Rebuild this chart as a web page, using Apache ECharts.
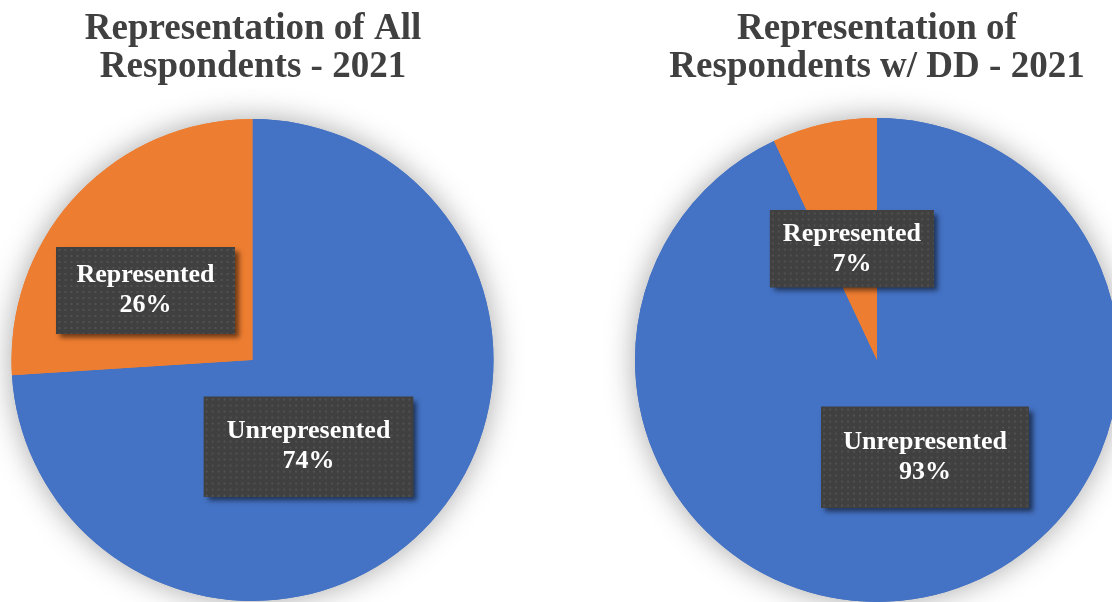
<!DOCTYPE html>
<html>
<head>
<meta charset="utf-8">
<script src="https://cdn.jsdelivr.net/npm/echarts@6/dist/echarts.min.js"></script>
<style>
  html, body { margin: 0; padding: 0; background: #fff; }
  #chart { width: 1112px; height: 602px; }
</style>
</head>
<body>
<div id="chart"></div>
<script>
const titles = ['Representation of All\nRespondents - 2021', 'Representation of\nRespondents w/ DD - 2021']
const categories = ['Unrepresented', 'Represented']
const allValues = [74, 26]
const ddValues = [93, 7]

const serif = '"Liberation Serif", "Times New Roman", serif'
const colors = ['#4472C4', '#ED7D31']

// dotted dark fill for the label boxes
function dots(w, h) {
  const c = document.createElement('canvas')
  c.width = w
  c.height = h
  const ctx = c.getContext('2d')
  ctx.fillStyle = '#404040'
  ctx.fillRect(0, 0, w, h)
  ctx.fillStyle = '#515151'
  for (let y = 2; y < h; y += 6) {
    for (let x = 2; x < w; x += 6) ctx.fillRect(x, y, 2, 2)
  }
  return c
}

// per label box: [padding, box w, box h, dx, dy]
const boxes = [
  [[[20, 23], 211, 100, -34, 2], [[14, 20, 13, 20], 178, 87, -17, 15]],
  [[[20, 22, 21, 22], 209, 101, 21, -24], [[8, 13, 9, 13], 165, 77, 2, 10]]
]

const centers = [[252.5, 360], [877, 360]]
const radii = [241, 242]

const chart = echarts.init(document.getElementById('chart'))

const labelBase = {
  show: true,
  position: 'inside',
  formatter: p => p.name + '\n' + p.value + '%',
  fontFamily: serif,
  fontWeight: 'bold',
  fontSize: 26,
  lineHeight: 30,
  color: '#fff',
  align: 'center'
}

// layer 0: drop shadow under the pie, layer 1: slices + shadowed label boxes,
// layer 2: dotted label boxes with the text on top
function pieLayer(s, values, layer) {
  return {
    type: 'pie',
    z: layer + 1,
    startAngle: 90,
    clockwise: true,
    avoidLabelOverlap: false,
    silent: true,
    animation: false,
    center: centers[s],
    radius: radii[s],
    itemStyle: layer === 0
      ? { shadowBlur: 30, shadowColor: 'rgba(0,0,0,0.35)' }
      : {},
    labelLine: { show: false },
    emphasis: { disabled: true },
    label: layer === 0 ? { show: false } : labelBase,
    labelLayout: p => ({ dx: boxes[s][p.dataIndex][3], dy: boxes[s][p.dataIndex][4] }),
    data: values.map((v, i) => {
      const b = boxes[s][i]
      return {
        name: categories[i],
        value: v,
        itemStyle: { color: layer === 2 ? 'rgba(0,0,0,0)' : colors[i] },
        label: layer === 1
          ? {
              padding: b[0],
              backgroundColor: '#404040',
              shadowBlur: 5,
              shadowColor: 'rgba(0,0,0,0.55)',
              shadowOffsetX: 4,
              shadowOffsetY: 4
            }
          : { padding: b[0], backgroundColor: { image: dots(b[1], b[2]) } }
      }
    })
  }
}

const series = []
;[allValues, ddValues].forEach((vals, s) => {
  for (let layer = 0; layer < 3; layer++) series.push(pieLayer(s, vals, layer))
})

chart.setOption({
  backgroundColor: '#fff',
  title: titles.map((t, i) => ({
    text: t,
    left: i === 0 ? 248 : 872,
    top: 5,
    textAlign: 'center',
    textStyle: {
      fontFamily: serif,
      fontWeight: 'bold',
      fontSize: 37,
      lineHeight: 38,
      color: '#404040'
    }
  })),
  series: series
})
</script>
</body>
</html>
